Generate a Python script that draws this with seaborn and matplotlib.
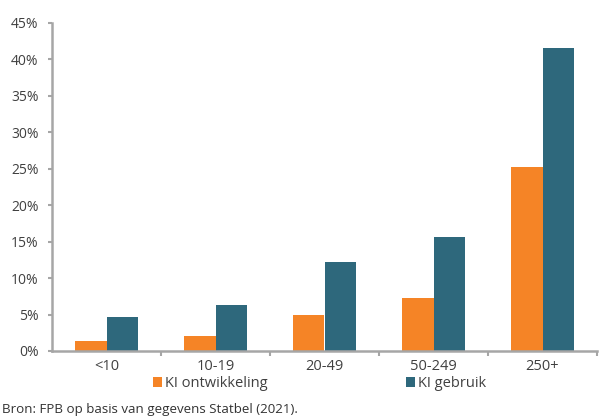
import matplotlib
matplotlib.use("Agg")
import matplotlib.pyplot as plt
import seaborn as sns
import pandas as pd

# Company size classes and shares of firms (fraction)
size_classes = ["<10", "10-19", "20-49", "50-249", "250+"]
ki_ontwikkeling = [0.014, 0.020, 0.049, 0.073, 0.252]
ki_gebruik = [0.046, 0.063, 0.122, 0.156, 0.416]
series_names = ["KI ontwikkeling", "KI gebruik"]
y_ticks = [0, 0.05, 0.10, 0.15, 0.20, 0.25, 0.30, 0.35, 0.40, 0.45]

df = pd.DataFrame({
    "klasse": size_classes * 2,
    "aandeel": ki_ontwikkeling + ki_gebruik,
    "reeks": [series_names[0]] * 5 + [series_names[1]] * 5,
})

sns.set_style("white")
plt.rcParams["font.family"] = ["Open Sans", "DejaVu Sans"]
text_color = "#404040"
axis_color = "#a6a6a6"
fs_y = 10
fs_x = 10.5
fs_leg = 10.5
fs_src = 9.6

W, H = 599, 416
fig = plt.figure(figsize=(W / 100, H / 100), dpi=100)
ax = fig.add_axes([52 / W, 1 - 351 / H, (597 - 52) / W, (351 - 23) / H])

sns.barplot(data=df, x="klasse", y="aandeel", hue="reeks", order=size_classes,
            hue_order=series_names, palette=["#f58426", "#2e687c"],
            width=0.57, gap=0, saturation=1, linewidth=0, ax=ax)

ax.set_xlim(-0.5, 4.5)
ax.set_ylim(0, 0.45)
ax.set_yticks(y_ticks)
ax.set_yticklabels([f"{round(t * 100)}%" for t in y_ticks])
ax.set_xlabel("")
ax.set_ylabel("")

for side in ["top", "right"]:
    ax.spines[side].set_visible(False)
for side in ["left", "bottom"]:
    ax.spines[side].set_color(axis_color)
    ax.spines[side].set_linewidth(1.8)

ax.tick_params(axis="y", length=3.2, width=1.5, color=axis_color, labelcolor=text_color,
               labelsize=fs_y, pad=6.5, left=True)
ax.tick_params(axis="x", which="major", length=0, labelcolor=text_color, labelsize=fs_x, pad=6)
ax.set_xticks([0.5, 1.5, 2.5, 3.5, 4.5], minor=True)
ax.tick_params(axis="x", which="minor", length=3.5, width=1.5, color=axis_color, bottom=True)

# Legend below the axis: first handle at x=153 px, second handle at x=406 px
handles, labels = ax.get_legend_handles_labels()
ax.get_legend().remove()
leg_kw = dict(loc="upper left", bbox_to_anchor=(153 / W, 1 - 376 / H),
              bbox_transform=fig.transFigure, ncol=2, frameon=False, fontsize=fs_leg,
              labelcolor=text_color, handlelength=0.65, handleheight=0.7,
              handletextpad=0.2, borderpad=0, borderaxespad=0)
leg = fig.legend(handles, labels, columnspacing=10, **leg_kw)
fig.canvas.draw()
renderer = fig.canvas.get_renderer()
t0 = leg.get_texts()[0].get_window_extent(renderer)
gap_px = 406 - t0.x1
leg.remove()
fig.legend(handles, labels, columnspacing=gap_px / (fs_leg * 100 / 72), **leg_kw)

fig.text(2 / W, 1 - 413 / H, "Bron: FPB op basis van gegevens Statbel (2021).",
         fontsize=fs_src, color="#333333", ha="left", va="baseline")

fig.savefig("out.png", dpi=100)
